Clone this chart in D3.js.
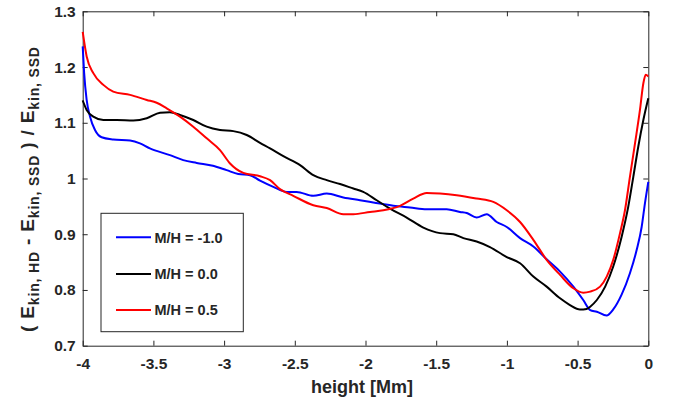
<!DOCTYPE html>
<html>
<head>
<meta charset="utf-8">
<script src="https://cdn.jsdelivr.net/npm/d3@7"></script>
<style>
  html, body { margin: 0; padding: 0; background: #fff; }
  svg { display: block; }
  text { font-family: "Liberation Sans", Arial, Helvetica, sans-serif; font-weight: bold; fill: #262626; }
</style>
</head>
<body>
<svg id="chart" width="680" height="403"></svg>
<script>
// ---- data (height [Mm], ratio) ----
const seriesNames = ["M/H = -1.0", "M/H = 0.0", "M/H = 0.5"];
const seriesColors = ["#0000ff", "#000000", "#ff0000"];

const blueSeries = [[-4.000,1.237],[-3.990,1.190],[-3.972,1.141],[-3.948,1.111],[-3.913,1.087],[-3.866,1.074],[-3.784,1.070],[-3.665,1.068],[-3.595,1.063],[-3.525,1.054],[-3.383,1.042],[-3.289,1.033],[-3.194,1.028],[-3.079,1.023],[-2.982,1.015],[-2.900,1.008],[-2.817,1.006],[-2.746,0.996],[-2.652,0.985],[-2.557,0.976],[-2.487,0.976],[-2.369,0.969],[-2.274,0.973],[-2.157,0.966],[-2.039,0.961],[-1.945,0.957],[-1.803,0.951],[-1.685,0.948],[-1.567,0.945],[-1.426,0.945],[-1.332,0.940],[-1.284,0.938],[-1.214,0.930],[-1.143,0.936],[-1.072,0.922],[-1.001,0.913],[-0.907,0.893],[-0.813,0.878],[-0.719,0.855],[-0.624,0.833],[-0.530,0.806],[-0.460,0.782],[-0.411,0.764],[-0.364,0.761],[-0.295,0.754],[-0.248,0.765],[-0.188,0.792],[-0.130,0.830],[-0.082,0.872],[-0.047,0.913],[-0.024,0.955],[0,0.994]];

const blackSeries = [[-4.000,1.140],[-3.972,1.123],[-3.925,1.111],[-3.854,1.105],[-3.760,1.105],[-3.642,1.104],[-3.547,1.108],[-3.453,1.118],[-3.383,1.119],[-3.312,1.114],[-3.218,1.105],[-3.123,1.093],[-3.029,1.087],[-2.935,1.085],[-2.840,1.078],[-2.746,1.064],[-2.675,1.054],[-2.581,1.040],[-2.463,1.024],[-2.369,1.006],[-2.274,0.997],[-2.180,0.990],[-2.086,0.982],[-2.016,0.976],[-1.921,0.961],[-1.827,0.946],[-1.709,0.930],[-1.591,0.912],[-1.473,0.902],[-1.379,0.900],[-1.308,0.893],[-1.214,0.887],[-1.120,0.877],[-1.001,0.859],[-0.907,0.848],[-0.813,0.824],[-0.719,0.806],[-0.624,0.785],[-0.554,0.773],[-0.483,0.765],[-0.436,0.766],[-0.411,0.770],[-0.364,0.782],[-0.305,0.806],[-0.248,0.842],[-0.188,0.896],[-0.142,0.949],[-0.106,1.003],[-0.071,1.057],[-0.035,1.105],[0,1.144]];

const redSeries = [[-4.000,1.263],[-3.972,1.219],[-3.925,1.189],[-3.854,1.168],[-3.784,1.156],[-3.665,1.150],[-3.547,1.141],[-3.477,1.136],[-3.406,1.126],[-3.312,1.111],[-3.218,1.093],[-3.123,1.072],[-3.029,1.051],[-2.958,1.027],[-2.864,1.010],[-2.746,1.004],[-2.675,0.997],[-2.605,0.981],[-2.511,0.969],[-2.369,0.952],[-2.274,0.947],[-2.157,0.936],[-2.086,0.936],[-1.968,0.940],[-1.874,0.943],[-1.756,0.951],[-1.662,0.964],[-1.567,0.974],[-1.473,0.973],[-1.355,0.970],[-1.214,0.964],[-1.096,0.958],[-1.001,0.943],[-0.907,0.922],[-0.813,0.890],[-0.719,0.854],[-0.624,0.827],[-0.530,0.803],[-0.460,0.795],[-0.411,0.797],[-0.341,0.806],[-0.294,0.824],[-0.248,0.854],[-0.200,0.902],[-0.165,0.943],[-0.130,1.003],[-0.094,1.063],[-0.059,1.123],[-0.035,1.171],[-0.018,1.186],[0,1.183]];

const xTicks = [-4, -3.5, -3, -2.5, -2, -1.5, -1, -0.5, 0];
const xTickLabels = ["-4", "-3.5", "-3", "-2.5", "-2", "-1.5", "-1", "-0.5", "0"];
const yTicks = [0.7, 0.8, 0.9, 1.0, 1.1, 1.2, 1.3];
const yTickLabels = ["0.7", "0.8", "0.9", "1", "1.1", "1.2", "1.3"];

// ---- layout ----
const L = 82.7, R = 648.3, T = 11.3, B = 345.7;
const axisColor = "#262626";

const svg = d3.select("#chart");
const x = d3.scaleLinear().domain([-4, 0]).range([L, R]);
const y = d3.scaleLinear().domain([0.7, 1.3]).range([B, T]);

function styleAxis(g) {
  g.select(".domain").attr("stroke", axisColor).attr("stroke-width", 1);
  g.selectAll(".tick line").attr("stroke", axisColor).attr("stroke-width", 1);
  g.selectAll(".tick text").attr("fill", axisColor)
    .style("font-size", "15.5px").style("font-weight", "bold")
    .style("font-family", '"Liberation Sans", Arial, sans-serif');
}

// bottom
svg.append("g").attr("transform", `translate(0,${B})`)
  .call(d3.axisBottom(x).tickValues(xTicks).tickFormat((d, i) => xTickLabels[i])
        .tickSizeInner(-5).tickSizeOuter(0).tickPadding(12))
  .call(styleAxis);
// top
svg.append("g").attr("transform", `translate(0,${T})`)
  .call(d3.axisTop(x).tickValues(xTicks).tickFormat("")
        .tickSizeInner(-5).tickSizeOuter(0))
  .call(styleAxis);
// left
svg.append("g").attr("transform", `translate(${L},0)`)
  .call(d3.axisLeft(y).tickValues(yTicks).tickFormat((d, i) => yTickLabels[i])
        .tickSizeInner(-5).tickSizeOuter(0).tickPadding(7))
  .call(styleAxis);
// right
svg.append("g").attr("transform", `translate(${R},0)`)
  .call(d3.axisRight(y).tickValues(yTicks).tickFormat("")
        .tickSizeInner(-5).tickSizeOuter(0))
  .call(styleAxis);

// ---- lines ----
const line = d3.line().x(d => x(d[0])).y(d => y(d[1])).curve(d3.curveMonotoneX);
const allSeries = [blueSeries, blackSeries, redSeries];
svg.append("g").selectAll("path").data(allSeries).join("path")
  .attr("d", d => line(d))
  .attr("fill", "none")
  .attr("stroke", (d, i) => seriesColors[i])
  .attr("stroke-width", 2)
  .attr("stroke-linejoin", "round");

// ---- axis labels ----
svg.append("text")
  .attr("x", 362).attr("y", 393)
  .attr("text-anchor", "middle")
  .style("font-size", "18px")
  .text("height [Mm]");

const yl = svg.append("text")
  .attr("transform", "translate(34,189.5) rotate(-90)")
  .attr("text-anchor", "middle")
  .attr("textLength", 285)
  .attr("lengthAdjust", "spacing")
  .style("font-size", "19px");
const parts = [
  ["( E", false], ["kin, HD", true], [" - E", false], ["kin, SSD", true],
  [" ) / E", false], ["kin, SSD", true]
];
const subShift = 5;
parts.forEach(([t, sub]) => {
  const ts = yl.append("tspan").text(t);
  if (sub) ts.attr("dy", subShift).style("font-size", "14px");
  else if (t !== parts[0][0]) ts.attr("dy", -subShift);
});

// ---- legend ----
const lg = svg.append("g");
lg.append("rect").attr("x", 101).attr("y", 213.3).attr("width", 142.3).attr("height", 118.4)
  .attr("fill", "#fff").attr("stroke", axisColor).attr("stroke-width", 1);
const rowY = [237.3, 274, 310];
seriesNames.forEach((name, i) => {
  lg.append("line").attr("x1", 116).attr("x2", 151).attr("y1", rowY[i]).attr("y2", rowY[i])
    .attr("stroke", seriesColors[i]).attr("stroke-width", 2);
  lg.append("text").attr("x", 154.5).attr("y", rowY[i]).attr("dy", "0.36em")
    .style("font-size", "14.5px").text(name);
});
</script>
</body>
</html>
